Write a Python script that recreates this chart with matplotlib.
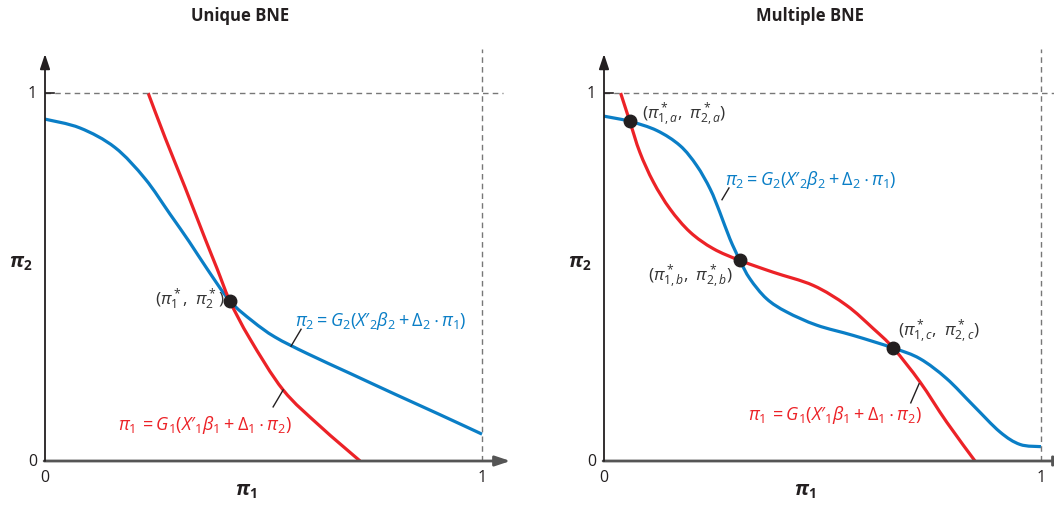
import matplotlib
matplotlib.use("Agg")
import matplotlib.pyplot as plt
import numpy as np
from matplotlib.path import Path
from matplotlib.patches import PathPatch

plt.rcParams['font.family'] = ['Open Sans', 'DejaVu Sans']
plt.rcParams['mathtext.fontset'] = 'custom'
plt.rcParams['mathtext.rm'] = 'Open Sans'
plt.rcParams['mathtext.it'] = 'Open Sans:italic'
plt.rcParams['mathtext.bf'] = 'Open Sans:bold'
plt.rcParams['mathtext.bfit'] = 'Open Sans:italic:bold'
plt.rcParams['mathtext.fallback'] = 'stixsans'

BLUE = '#0a7ec6'
RED = '#ec2227'
INK = '#231f20'

# ---- left panel: unique equilibrium
uni_blue_x = [0.000, 0.080, 0.160, 0.229, 0.286, 0.330, 0.371, 0.423, 0.475, 0.526,
              0.600, 0.700, 0.800, 0.900, 1.000]
uni_blue_y = [0.929, 0.905, 0.852, 0.767, 0.671, 0.596, 0.522, 0.435, 0.380, 0.337,
              0.292, 0.237, 0.182, 0.128, 0.073]
uni_red_x = [0.236, 0.275, 0.320, 0.366, 0.394, 0.423, 0.469, 0.545, 0.629, 0.721]
uni_red_y = [1.000, 0.878, 0.745, 0.605, 0.522, 0.435, 0.332, 0.193, 0.095, 0.000]
uni_eq = [(0.423, 0.435)]

# ---- right panel: multiple equilibria
mul_blue_x = [0.000, 0.059, 0.121, 0.174, 0.212, 0.243, 0.265, 0.288, 0.311, 0.334, 0.372, 0.418,
              0.487, 0.571, 0.662, 0.723, 0.784, 0.845, 0.906, 0.952, 1.000]
mul_blue_y = [0.937, 0.923, 0.898, 0.857, 0.803, 0.739, 0.676, 0.604, 0.545, 0.495, 0.441, 0.405,
              0.369, 0.341, 0.307, 0.278, 0.224, 0.151, 0.079, 0.045, 0.039]
mul_red_x = [0.038, 0.059, 0.082, 0.113, 0.151, 0.197, 0.250, 0.311, 0.387, 0.479, 0.555, 0.616,
             0.662, 0.723, 0.784, 0.849]
mul_red_y = [1.000, 0.923, 0.839, 0.758, 0.685, 0.622, 0.577, 0.545, 0.513, 0.477, 0.423, 0.360,
             0.307, 0.215, 0.106, 0.000]
mul_eq = [(0.059, 0.923), (0.311, 0.545), (0.662, 0.307)]

titles = ['Unique BNE', 'Multiple BNE']
eq_labels_uni = [r'$(\pi^*_1,\ \pi^*_2)$']
eq_labels_mul = [r'$(\pi^*_{1,a},\ \pi^*_{2,a})$', r'$(\pi^*_{1,b},\ \pi^*_{2,b})$',
                 r'$(\pi^*_{1,c},\ \pi^*_{2,c})$']
lab_blue = r"$\pi_2 = G_2(X\prime_2\beta_2 + \Delta_2\cdot\pi_1)$"
lab_red = r"$\pi_1\, = G_1(X\prime_1\beta_1 + \Delta_1\cdot\pi_2)$"

W, H = 1054, 506
fig = plt.figure(figsize=(W / 100, H / 100), dpi=100)

XMAX, YMAX = 1.065, 1.106


def smooth_curve(ax, xs, ys, color):
    # draw a smooth curve through the read points (Catmull-Rom as cubic Bezier)
    p = np.column_stack([xs, ys])
    p_ext = np.vstack([p[0], p, p[-1]])
    verts = [p[0]]
    codes = [Path.MOVETO]
    for i in range(1, len(p_ext) - 2):
        p0, p1, p2, p3 = p_ext[i - 1], p_ext[i], p_ext[i + 1], p_ext[i + 2]
        verts += [p1 + (p2 - p0) / 6, p2 - (p3 - p1) / 6, p2]
        codes += [Path.CURVE4] * 3
    ax.add_patch(PathPatch(Path(verts, codes), fc='none', ec=color, lw=2.3, capstyle='butt'))


def make_axes(x0px):
    # data 0..1 maps to 437 px horizontally and 368 px vertically
    ax = fig.add_axes([x0px / W, (H - 462) / H, XMAX * 437 / W, YMAX * 368 / H])
    ax.set_xlim(0, XMAX)
    ax.set_ylim(0, YMAX)
    for s in ax.spines.values():
        s.set_visible(False)
    ax.set_xticks([])
    ax.set_yticks([])
    ax.patch.set_alpha(0)
    # dashed unit box
    ax.plot([0, 1.048], [1, 1], ls=(0, (4, 3)), color='#777777', lw=1.0, clip_on=False)
    ax.plot([1, 1], [0, 1.12], ls=(0, (4, 3)), color='#777777', lw=1.0, clip_on=False)
    ax.plot([0, 0.02], [1, 1], color=INK, lw=1.2)
    # axes with arrows
    ax.annotate('', xy=(XMAX, 0), xytext=(-0.002, 0), annotation_clip=False,
                arrowprops=dict(arrowstyle='-|>,head_length=0.9,head_width=0.3', color='#555555',
                                lw=2.0, shrinkA=0, shrinkB=0))
    ax.annotate('', xy=(0, YMAX), xytext=(0, 0), annotation_clip=False,
                arrowprops=dict(arrowstyle='-|>,head_length=0.9,head_width=0.3', color=INK,
                                lw=1.3, shrinkA=0, shrinkB=0))
    ax.text(-0.018, 1.0, '1', ha='right', va='center', fontsize=11.5, color=INK)
    ax.text(-0.018, 0.0, '0', ha='right', va='center', fontsize=11.5, color=INK)
    ax.text(0.0, -0.022, '0', ha='center', va='top', fontsize=11.5, color=INK)
    ax.text(1.0, -0.022, '1', ha='center', va='top', fontsize=11.5, color=INK)
    ax.text(0.46, -0.055, r'$\mathbfit{\pi}_{\mathbf{1}}$', ha='center', va='top',
            fontsize=14, color=INK)
    ax.text(-0.028, 0.54, r'$\mathbfit{\pi}_{\mathbf{2}}$', ha='right', va='center',
            fontsize=14, color=INK)
    return ax


axL = make_axes(45)
axR = make_axes(604)

fig.text(240 / W, 1 - 16 / H, titles[0], ha='center', va='center', fontsize=12,
         fontweight='bold', color=INK)
fig.text(810 / W, 1 - 16 / H, titles[1], ha='center', va='center', fontsize=12,
         fontweight='bold', color=INK)

# left panel curves
smooth_curve(axL, uni_blue_x, uni_blue_y, BLUE)
smooth_curve(axL, uni_red_x, uni_red_y, RED)
for (ex, ey) in uni_eq:
    axL.plot(ex, ey, 'o', color=INK, ms=9, zorder=5)
axL.text(0.410, 0.44, eq_labels_uni[0], ha='right', va='center', fontsize=12.5, color='#333333')
axL.text(0.573, 0.383, lab_blue, ha='left', va='center', fontsize=13, color=BLUE)
axL.plot([0.586, 0.563], [0.358, 0.312], color=INK, lw=1.0)
axL.text(0.167, 0.100, lab_red, ha='left', va='center', fontsize=13, color=RED)
axL.plot([0.545, 0.522], [0.193, 0.147], color=INK, lw=1.0)

# right panel curves
smooth_curve(axR, mul_blue_x, mul_blue_y, BLUE)
smooth_curve(axR, mul_red_x, mul_red_y, RED)
for (ex, ey) in mul_eq:
    axR.plot(ex, ey, 'o', color=INK, ms=9, zorder=5)
axR.text(0.088, 0.945, eq_labels_mul[0], ha='left', va='center', fontsize=12.5, color='#333333')
axR.text(0.295, 0.505, eq_labels_mul[1], ha='right', va='center', fontsize=12.5, color='#333333')
axR.text(0.672, 0.355, eq_labels_mul[2], ha='left', va='center', fontsize=12.5, color='#333333')
axR.text(0.277, 0.765, lab_blue, ha='left', va='center', fontsize=13, color=BLUE)
axR.plot([0.286, 0.270], [0.742, 0.710], color=INK, lw=1.0)
axR.text(0.330, 0.128, lab_red, ha='left', va='center', fontsize=13, color=RED)
axR.plot([0.721, 0.702], [0.210, 0.158], color=INK, lw=1.0)

fig.savefig('out.png', dpi=100)
